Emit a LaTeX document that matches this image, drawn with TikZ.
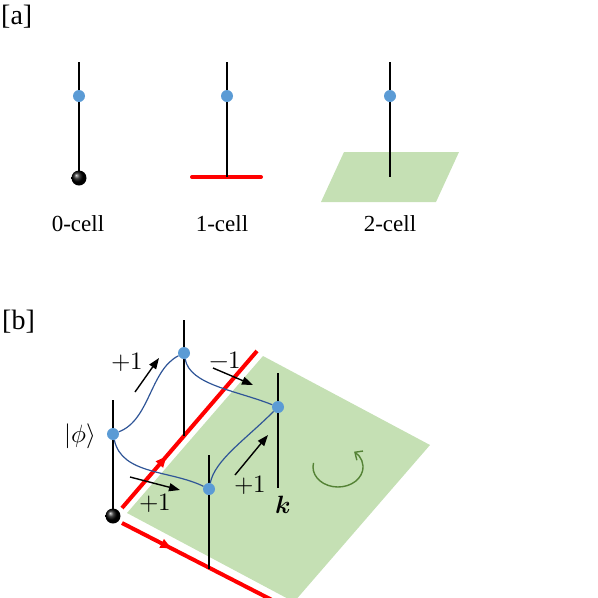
\documentclass[tikz,border=0pt]{standalone}
\usepackage{fontspec}
\usepackage{unicode-math}
\setmainfont{Liberation Serif}
\setmathfont{Latin Modern Math}
\usetikzlibrary{arrows.meta,decorations.markings}
\definecolor{dotblue}{HTML}{5B9BD5}
\definecolor{pathblue}{HTML}{2F5597}
\definecolor{cellgreen}{HTML}{C5E0B4}
\definecolor{turngreen}{HTML}{548235}
\definecolor{cellred}{HTML}{FF0000}
\tikzset{
  post/.style={line width=2pt},
  site/.style={circle, fill=dotblue, inner sep=0pt, minimum size=12pt},
  origin/.style={circle, shading=ball, ball color=black, inner sep=0pt, minimum size=15pt},
  redcell/.style={line width=4pt, cellred},
  midarrow/.style={redcell, postaction={decorate},
    decoration={markings, mark=at position 0.33 with {\arrow{Triangle[length=11pt,width=9pt]}}}},
  hop/.style={line width=1.4pt, -{Triangle[length=11pt,width=8pt]}},
  chainpath/.style={pathblue, line width=1.2pt},
  tag/.style={font=\fontsize{28}{32}\selectfont, inner sep=0pt, anchor=west},
  lbl/.style={font=\fontsize{23}{27}\selectfont},
  num/.style={font=\fontsize{25}{29}\selectfont},
}
\begin{document}
\begin{tikzpicture}[x=1pt, y=1pt]
	\useasboundingbox (0,0) rectangle (598,-598);
	
	% Panel [a]
	\node[tag] (taga) at (1,-17) {[a]};
	
	% 0-cell
	\draw[post] (79,-62) -- (79,-178);
	\node[site] (s0) at (79,-96) {};
	\node[origin] (v0) at (79,-178) {};
	\node[lbl] (l0) at (78,-224) {0-cell};
	
	% 1-cell
	\draw[redcell, line cap=round] (192,-177) -- (261,-177);
	\draw[post] (227,-62) -- (227,-177);
	\node[site] (s1) at (227,-96) {};
	\node[lbl] (l1) at (222,-224) {1-cell};
	
	% 2-cell
	\fill[cellgreen] (344,-152) -- (459,-152) -- (436,-202) -- (321,-202) -- cycle;
	\draw[post] (390,-62) -- (390,-177);
	\node[site] (s2) at (390,-96) {};
	\node[lbl] (l2) at (390,-224) {2-cell};
	
	% Panel [b]
	\node[tag] (tagb) at (2,-322) {[b]};
	
	\begin{scope}
		\clip (0,-300) rectangle (598,-598);
		% Plaquette and edges
		\fill[cellgreen] (127,-513) -- (263,-356) -- (430,-445) -- (294,-602) -- cycle;
		\draw[midarrow] (122,-508) -- (257,-351);
		\draw[midarrow] (122,-523) -- (272,-600);
		
		% Posts
		\draw[post] (113,-400) -- (113,-516);
		\draw[post] (184,-320) -- (184,-436);
		\draw[post] (278,-373) -- (278,-488);
		\draw[post] (209,-455) -- (209,-569);
	\end{scope}
	
	% Sites
	\node[origin] (ball) at (113,-516) {};
	\node[site] (phi) at (113,-434) {};
	\node[site] (up) at (184,-353) {};
	\node[site] (rt) at (278,-407) {};
	\node[site] (lo) at (209,-489) {};
	
	% Paths
	\draw[chainpath] (phi) .. controls (150,-420) and (150,-370) .. (up);
	\draw[chainpath] (up) .. controls (190,-385) and (235,-390) .. (rt);
	\draw[chainpath] (phi) .. controls (122,-475) and (170,-470) .. (lo);
	\draw[chainpath] (lo) .. controls (215,-460) and (245,-440) .. (rt);
	
	% Hops
	\draw[hop] (135,-392) -- (159,-358);
	\draw[hop] (213,-368) -- (253,-385);
	\draw[hop] (130,-477) -- (180,-490);
	\draw[hop] (235,-475) -- (268,-435);
	
	\node[num] (n1) at (127,-362) {$+1$};
	\node[num] (n2) at (225,-360) {$-1$};
	\node[num] (n3) at (155,-503) {$+1$};
	\node[num] (n4) at (250,-485) {$+1$};
	\node[num] (lphi) at (80,-436) {$|\phi\rangle$};
	\node[num] (lk) at (283,-505) {$\symbfit{k}$};
	
	% Rotation
	\draw[turngreen, line width=1.4pt, -{Straight Barb[length=6pt,width=11pt]}]
		(338,-467) ++(168:25 and 20) arc[start angle=168, end angle=410, x radius=25, y radius=20];
\end{tikzpicture}
\end{document}
